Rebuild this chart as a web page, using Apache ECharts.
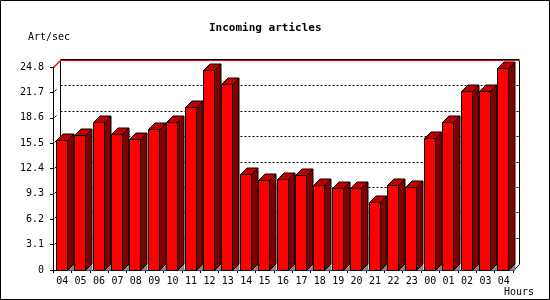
<!DOCTYPE html>
<html><head><meta charset="utf-8">
<script src="https://cdn.jsdelivr.net/npm/echarts@6/dist/echarts.min.js"></script>
<style>html,body{margin:0;padding:0;background:#fff}#c{width:550px;height:300px}</style>
</head><body><div id="c"></div>
<script>
const hours = ['04','05','06','07','08','09','10','11','12','13','14','15','16','17','18','19','20','21','22','23','00','01','02','03','04'];
const articles = [15.85,16.45,18.05,16.6,15.95,17.2,18.05,19.95,24.4,22.75,11.7,10.95,11.1,11.55,10.35,10.0,10.0,8.25,10.35,10.1,16.1,18.05,21.85,21.85,24.65];
const yTicks = [0,3.1,6.2,9.3,12.4,15.5,18.6,21.7,24.8];
const titleText = 'Incoming articles';
const yName = 'Art/sec';
const xName = 'Hours';

const FONT = '"DejaVu Sans Mono", "Liberation Mono", monospace';
const D = 6.5;

const chart = echarts.init(document.getElementById('c'), null, {renderer: 'canvas'});

function wallItem(params, api) {
  const cs = params.coordSys;
  const x0 = Math.round(cs.x) + 0.5, x1 = Math.round(cs.x + cs.width) + 0.5;
  const yt = Math.round(cs.y) + 0.5, yb = Math.round(cs.y + cs.height) + 0.5;
  const W = 7;
  const children = [];
  // gridlines on back wall + small diagonal ticks at the front axis
  yTicks.forEach(function (t) {
    const yf = Math.round(api.coord([0, t])[1]) + 0.5;
    if (t > yTicks[0] && t < yTicks[yTicks.length - 1]) {
      const y = yf - W;
      children.push({type: 'line', shape: {x1: x0 + W, y1: y, x2: x1 + W - 1, y2: y},
        style: {stroke: '#000', lineWidth: 1, lineDash: [2, 2]}});
      children.push({type: 'line', shape: {x1: x0 + 1, y1: yf - 1, x2: x0 + 3, y2: yf - 3},
        style: {stroke: '#000', lineWidth: 1}});
    }
  });
  // back left vertical
  children.push({type: 'line', shape: {x1: x0 + W, y1: yt - W, x2: x0 + W, y2: yb - W},
    style: {stroke: '#000', lineWidth: 1}});
  // back right vertical + diagonal to front
  children.push({type: 'polyline', shape: {points: [[x1 + W - 1, yt - W], [x1 + W - 1, yb - W + 1], [x1, yb]]},
    style: {stroke: '#000', lineWidth: 1, fill: null}});
  // top back line
  children.push({type: 'line', shape: {x1: x0 + W, y1: yt - W - 1, x2: x1 + W - 1, y2: yt - W - 1},
    style: {stroke: '#000', lineWidth: 1}});
  children.push({type: 'line', shape: {x1: x0 + W, y1: yt - W, x2: x1 + W - 1, y2: yt - W},
    style: {stroke: '#ff0000', lineWidth: 1}});
  // red diagonal top-left
  children.push({type: 'line', shape: {x1: x0, y1: yt, x2: x0 + W, y2: yt - W},
    style: {stroke: '#ff0000', lineWidth: 1.5}});
  return {type: 'group', children: children};
}

function barItem(params, api) {
  const i = api.value(0), v = api.value(1);
  const top = api.coord([i, v]);
  const base = api.coord([i, 0]);
  const band = api.size([1, 0])[0];
  const left = Math.round(top[0] - band / 2 + 2.8) + 0.5;
  const w = 11;
  const yT = Math.round(top[1]) + 0.5;
  const yB = Math.round(base[1]) + 0.5;
  const r = left + w;
  return {type: 'group', children: [
    {type: 'polygon', shape: {points: [[r, yB], [r + D, yB - D], [r + D, yB]]},
      style: {fill: '#8c8c8c', stroke: '#555', lineWidth: 0.5}},
    {type: 'polygon', shape: {points: [[r, yT], [r + D, yT - D], [r + D, yB - D], [r, yB]]},
      style: {fill: '#800000', stroke: '#000', lineWidth: 1}},
    {type: 'polygon', shape: {points: [[left, yT], [left + D, yT - D], [r + D, yT - D], [r, yT]]},
      style: {fill: '#c00000', stroke: '#000', lineWidth: 1}},
    {type: 'rect', shape: {x: left, y: yT, width: w, height: yB - yT},
      style: {fill: '#ff0000', stroke: '#000', lineWidth: 1}}
  ]};
}

chart.setOption({
  backgroundColor: '#fff',
  animation: false,
  title: {
    text: titleText, left: 204, top: 18,
    textStyle: {fontFamily: FONT, fontSize: 11, fontWeight: 'bold', color: '#000'}
  },
  graphic: [
    {type: 'rect', shape: {x: 0.5, y: 0.5, width: 549, height: 299}, style: {fill: null, stroke: '#000', lineWidth: 1}, silent: true},
    {type: 'text', left: 28, top: 32, style: {text: yName, font: '10px ' + FONT, fill: '#000'}},
    {type: 'text', left: 504, top: 287, style: {text: xName, font: '10px ' + FONT, fill: '#000'}}
  ],
  grid: {left: 53, right: 37, top: 67, bottom: 30, containLabel: false},
  xAxis: {
    type: 'category', data: hours, boundaryGap: true,
    axisLine: {show: true, lineStyle: {color: '#000', width: 1}},
    axisTick: {show: true, length: 3, lineStyle: {color: '#000'}},
    axisLabel: {fontFamily: FONT, fontSize: 10, color: '#000', margin: 6, interval: 0},
    splitLine: {show: false}
  },
  yAxis: {
    type: 'value', min: 0, max: 24.8, interval: 3.1,
    axisLine: {show: true, lineStyle: {color: '#000', width: 1}},
    axisTick: {show: true, length: 3, lineStyle: {color: '#000'}},
    axisLabel: {fontFamily: FONT, fontSize: 10, color: '#000', margin: 9,
      formatter: function (v) { return Math.abs(v) < 1e-9 ? '0' : (Math.round(v * 10) / 10).toFixed(1); }},
    splitLine: {show: false}
  },
  series: [
    {type: 'custom', z: 1, renderItem: wallItem, data: [[0, 0]], silent: true},
    {type: 'custom', z: 2, renderItem: barItem,
      data: articles.map(function (v, i) { return [i, v]; }),
      encode: {x: 0, y: 1}, silent: true}
  ]
});
</script></body></html>
